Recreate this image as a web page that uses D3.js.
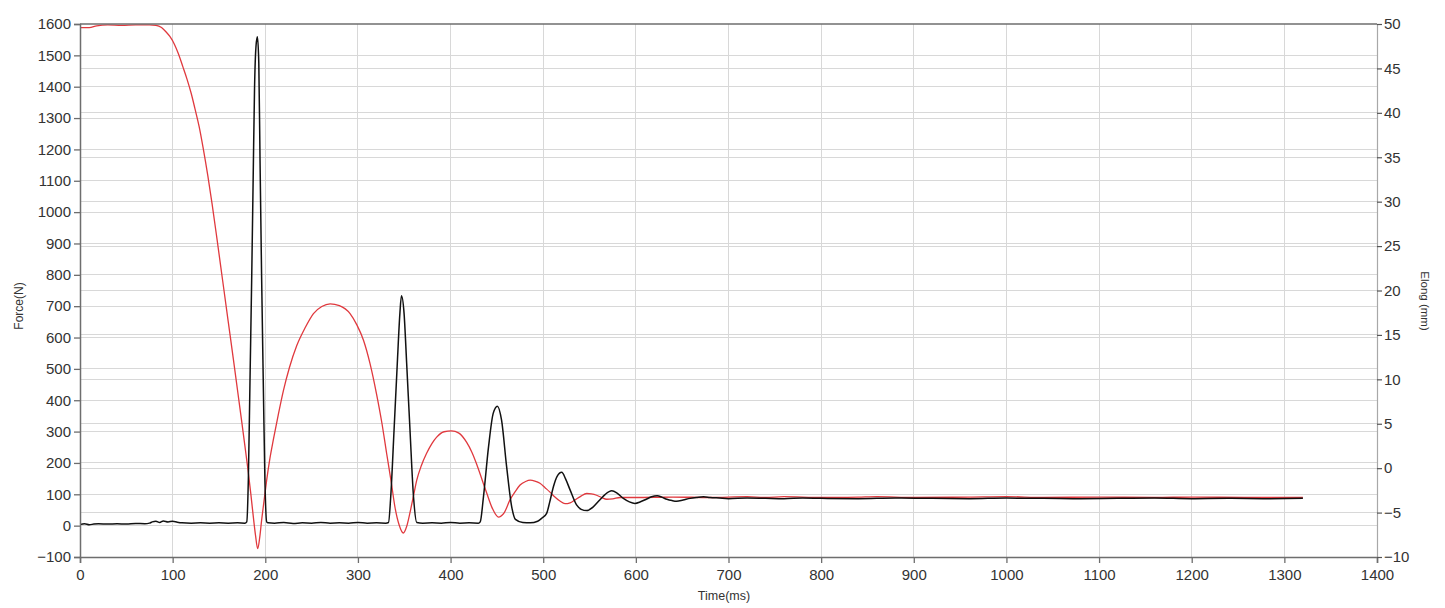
<!DOCTYPE html>
<html>
<head>
<meta charset="utf-8">
<script src="https://cdn.jsdelivr.net/npm/d3@7"></script>
<style>
  html, body { margin: 0; padding: 0; background: #ffffff; }
  svg { display: block; }
  text { font-family: "Liberation Sans", Arial, sans-serif; fill: #333; }
</style>
</head>
<body>
<svg id="chart" width="1445" height="608"></svg>
<script>
// ---- Data ----
const timeTicks = [0,100,200,300,400,500,600,700,800,900,1000,1100,1200,1300,1400];
const forceTicks = [-100,0,100,200,300,400,500,600,700,800,900,1000,1100,1200,1300,1400,1500,1600];
const elongTicks = [-10,-5,0,5,10,15,20,25,30,35,40,45,50];

// Elongation (mm), red, right axis
const elongTime = [0,10,18,30,45,60,75,82,88,93,97,102,106,111,115.5,120,124,128.5,133,138,142.5,148,154,160,165.5,170,174.5,178,181.7,184.5,187,189.5,191.8,194,196,198.5,201.5,205,208.7,214,219.5,226,234,243,252,261,270,280,291.5,299,306,313,320,326,331,336,340,344.5,349,352.5,356,360,363.5,368.5,374,380,385,393,401,409,417.4,423,428,434,439,445,451.5,458,464,470,475,481,486,491,496.5,502,507,512,518,523.5,529,534,540,547,552,557.6,563,568.5,575,583,600,640,680,720,740,760,800,840,860,900,960,1000,1040,1100,1160,1200,1260,1320];
const elongVal  = [49.6,49.6,49.8,49.9,49.85,49.9,49.9,49.85,49.6,49.1,48.6,47.7,46.7,45.2,43.8,42.2,40.5,38.5,36.0,32.9,29.8,25.7,21.1,16.5,12.3,8.8,5.3,2.5,-0.5,-3.0,-5.4,-7.6,-9.06,-7.8,-5.9,-3.8,-1.35,1.1,3.2,6.0,8.7,11.3,13.8,15.8,17.4,18.2,18.5,18.3,17.4,16.1,14.4,11.8,8.4,5.0,1.65,-1.6,-4.4,-6.4,-7.3,-6.6,-5.1,-3.1,-1.35,0.3,1.65,2.8,3.5,4.1,4.2,3.95,2.9,1.8,0.5,-1.3,-2.8,-4.5,-5.5,-5.0,-3.6,-2.6,-1.9,-1.5,-1.35,-1.45,-1.7,-2.2,-2.67,-3.2,-3.7,-4.0,-3.9,-3.6,-3.2,-2.85,-2.9,-3.05,-3.3,-3.5,-3.45,-3.3,-3.3,-3.25,-3.3,-3.2,-3.3,-3.2,-3.3,-3.25,-3.2,-3.3,-3.25,-3.2,-3.3,-3.25,-3.3,-3.25,-3.3,-3.3];

// Force (N), black, left axis
const forceTime = [0,5,10,15,20,30,40,50,60,70,75,78,82,86,90,95,100,105,110,120,130,140,150,160,170,178,180,181.7,183.5,185.3,187,188.4,190,191.5,193,194.3,196,197.8,199.6,201.5,203,210,220,230,240,250,260,270,280,290,300,310,320,330,333,335.4,339,342.5,345.3,347,349.8,352.6,356.2,360,363.5,370,380,390,400,410,420,430,432,435.5,441,446,450.5,455,460.5,466,470,478,486,494,499,503.7,507,511,515,520,524,529,536,541,547,554,561,567,574,580,586.5,593,599,605,611.7,617,623,628,633.5,639,644,651,658.5,666,673,680,690,700,720,740,760,780,800,840,880,920,960,1000,1040,1080,1120,1160,1200,1240,1280,1320];
const forceVal  = [4,6,3,5,6,5,6,5,7,6,8,12,14,10,15,12,14,11,9,8,9,8,9,8,9,8,12,145,464,783,1124,1395,1530,1559,1475,1172,800,464,145,12,9,8,10,7,9,8,10,8,9,8,10,8,9,8,10,92,305,518,677,733,677,518,305,92,10,8,9,8,10,8,9,8,12,92,252,358,381,337,188,60,20,10,9,14,25,39,75,124,157,170,150,114,66,52,48,60,82,100,111,103,87,76,71,76,85,92,95,91,84,80,78,82,87,90,92,90,88,86,88,87,86,88,87,86,88,87,86,88,87,86,87,88,86,87,86,87,87];

// ---- Layout ----
const svg = d3.select("#chart");
const L = 80, R = 1377, T = 24, B = 557;

const x = d3.scaleLinear().domain([0, 1400]).range([L, R]);
const yF = d3.scaleLinear().domain([-100, 1600]).range([B, T]);
const yE = d3.scaleLinear().domain([-10, 50]).range([B, T]);

const gridColor = "#d8d8d8";
const grid = svg.append("g");
grid.selectAll("line.v").data(timeTicks.filter(d => d > 0 && d < 1400)).enter()
  .append("line").attr("x1", d => x(d)).attr("x2", d => x(d)).attr("y1", T).attr("y2", B)
  .attr("stroke", gridColor).attr("stroke-width", 1).attr("shape-rendering", "crispEdges");
grid.selectAll("line.hf").data(forceTicks.filter(d => d > -100 && d < 1600)).enter()
  .append("line").attr("x1", L).attr("x2", R).attr("y1", d => yF(d)).attr("y2", d => yF(d))
  .attr("stroke", gridColor).attr("stroke-width", 1).attr("shape-rendering", "crispEdges");
grid.selectAll("line.he").data(elongTicks.filter(d => d > -10 && d < 50)).enter()
  .append("line").attr("x1", L).attr("x2", R).attr("y1", d => yE(d)).attr("y2", d => yE(d))
  .attr("stroke", gridColor).attr("stroke-width", 1).attr("shape-rendering", "crispEdges");

// ---- Lines ----
const redData = elongTime.map((t, i) => [t, elongVal[i]]);
const blackData = forceTime.map((t, i) => [t, forceVal[i]]);

svg.append("path").datum(redData)
  .attr("fill", "none").attr("stroke", "#e0393e").attr("stroke-width", 1.3)
  .attr("d", d3.line().x(d => x(d[0])).y(d => yE(d[1])).curve(d3.curveMonotoneX));

svg.append("path").datum(blackData)
  .attr("fill", "none").attr("stroke", "#111").attr("stroke-width", 1.5)
  .attr("d", d3.line().x(d => x(d[0])).y(d => yF(d[1])).curve(d3.curveMonotoneX));

// ---- Axes ----
const axisColor = "#6e6e6e";
const fontSize = "15px";

const leftAxis = svg.append("g").attr("transform", `translate(${L},0)`)
  .call(d3.axisLeft(yF).tickValues(forceTicks).tickSize(6).tickPadding(3).tickFormat(d3.format("d")));
const bottomAxis = svg.append("g").attr("transform", `translate(0,${B})`)
  .call(d3.axisBottom(x).tickValues(timeTicks).tickSize(6).tickPadding(6).tickFormat(d3.format("d")));
const rightAxis = svg.append("g").attr("transform", `translate(${R},0)`)
  .call(d3.axisRight(yE).tickValues(elongTicks).tickSize(5).tickPadding(2).tickFormat(d3.format("d")));

[leftAxis, bottomAxis].forEach(g => {
  g.select(".domain").attr("stroke", axisColor).attr("stroke-width", 1.5);
  g.selectAll(".tick line").attr("stroke", axisColor).attr("stroke-width", 1.3);
  g.selectAll(".tick text").attr("font-size", fontSize).attr("fill", "#333")
    .style("font-family", "'Liberation Sans', Arial, sans-serif");
});
rightAxis.select(".domain").attr("stroke", "#a8a8a8").attr("stroke-width", 1.2);
rightAxis.selectAll(".tick line").attr("stroke", "#555").attr("stroke-width", 1.2);
rightAxis.selectAll(".tick text").attr("font-size", fontSize).attr("fill", "#333")
  .style("font-family", "'Liberation Sans', Arial, sans-serif");

svg.append("line").attr("x1", L).attr("x2", R).attr("y1", T).attr("y2", T)
  .attr("stroke", axisColor).attr("stroke-width", 1.5);

// ---- Titles ----
svg.append("text").attr("transform", "translate(23,306) rotate(-90)")
  .attr("text-anchor", "middle").attr("font-size", "12px").text("Force(N)");
svg.append("text").attr("transform", "translate(1421,301) rotate(90)")
  .attr("text-anchor", "middle").attr("font-size", "11.5px").text("Elong (mm)");
svg.append("text").attr("x", 724).attr("y", 600)
  .attr("text-anchor", "middle").attr("font-size", "12.5px").text("Time(ms)");
</script>
</body>
</html>
